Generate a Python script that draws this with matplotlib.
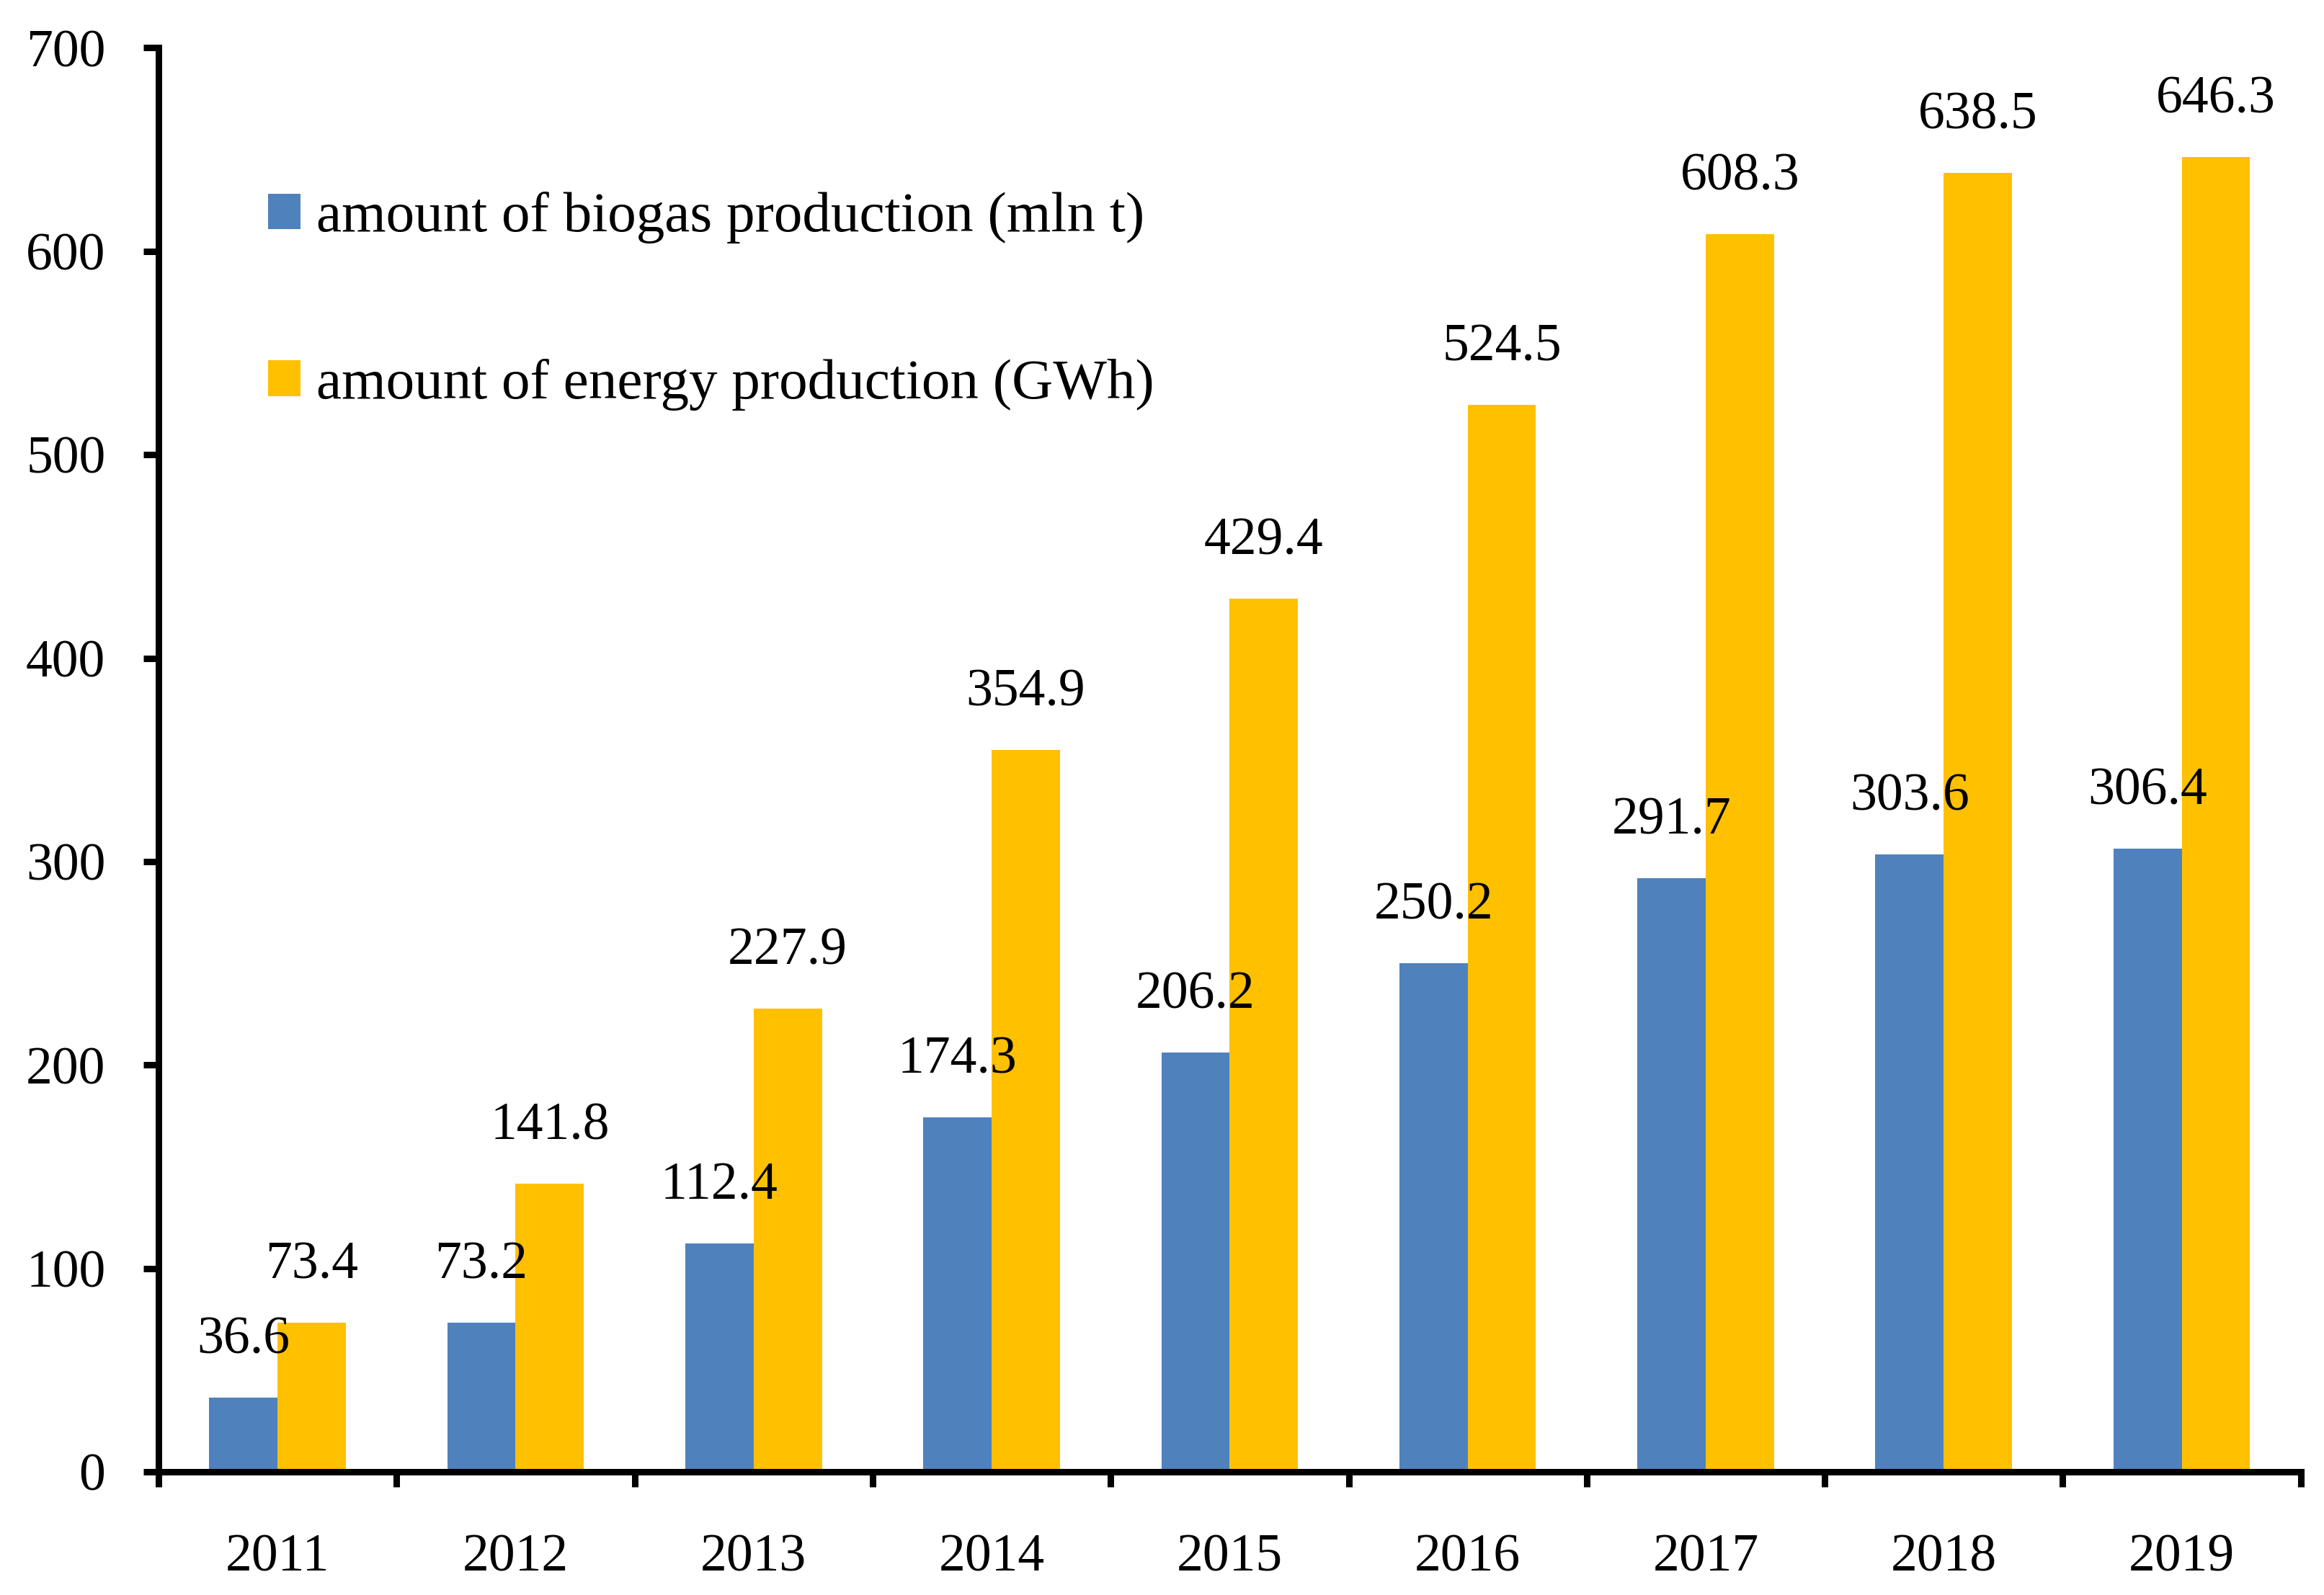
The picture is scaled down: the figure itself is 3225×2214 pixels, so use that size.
import matplotlib
matplotlib.use("Agg")
import matplotlib.pyplot as plt
import numpy as np

years = ["2011", "2012", "2013", "2014", "2015", "2016", "2017", "2018", "2019"]
biogas = [36.6, 73.2, 112.4, 174.3, 206.2, 250.2, 291.7, 303.6, 306.4]
energy = [73.4, 141.8, 227.9, 354.9, 429.4, 524.5, 608.3, 638.5, 646.3]
yticks = [0, 100, 200, 300, 400, 500, 600, 700]
labels = ["amount of biogas production (mln t)", "amount of energy production (GWh)"]

plt.rcParams['font.family'] = ['Liberation Serif', 'DejaVu Serif']
FS = 53
LFS = 57

fig = plt.figure(figsize=(32.25, 22.14), dpi=100)
ax = fig.add_axes([0.0682, 0.0772, 0.9218, 0.8928])

x = np.arange(len(years))
w = 0.287
b1 = ax.bar(x - w / 2, biogas, w, color="#4F81BD", label=labels[0], zorder=2)
b2 = ax.bar(x + w / 2, energy, w, color="#FFC000", label=labels[1], zorder=2)

for bars, vals in ((b1, biogas), (b2, energy)):
    for r, v in zip(bars, vals):
        ax.annotate(f"{v:.1f}", (r.get_x() + r.get_width() / 2, v),
                    xytext=(0, 57), textcoords="offset points",
                    ha="center", va="center", fontsize=FS, zorder=3)

ax.set_xlim(-0.5, len(years) - 0.5)
ax.set_ylim(0, 700)
ax.set_yticks(yticks)
ax.set_yticklabels([str(t) for t in yticks], fontsize=FS)

ax.set_xticks(np.arange(-0.5, len(years)))
ax.set_xticklabels([])
ax.set_xticks(x, minor=True)
ax.set_xticklabels(years, minor=True, fontsize=FS)

for s in ("top", "right"):
    ax.spines[s].set_visible(False)
for s in ("left", "bottom"):
    ax.spines[s].set_linewidth(6.5)
    ax.spines[s].set_capstyle("projecting")

ax.tick_params(axis="y", which="major", length=15, width=6.5, pad=38)
ax.tick_params(axis="x", which="major", length=15, width=6.5)
ax.tick_params(axis="x", which="minor", length=0, pad=62)

ax.legend(loc="upper left", bbox_to_anchor=(0.051, 0.899), frameon=False,
          fontsize=LFS, handlelength=0.58, handleheight=0.58,
          handletextpad=0.27, labelspacing=2.02, borderpad=0, borderaxespad=0)

fig.savefig("out.png", dpi=100)
